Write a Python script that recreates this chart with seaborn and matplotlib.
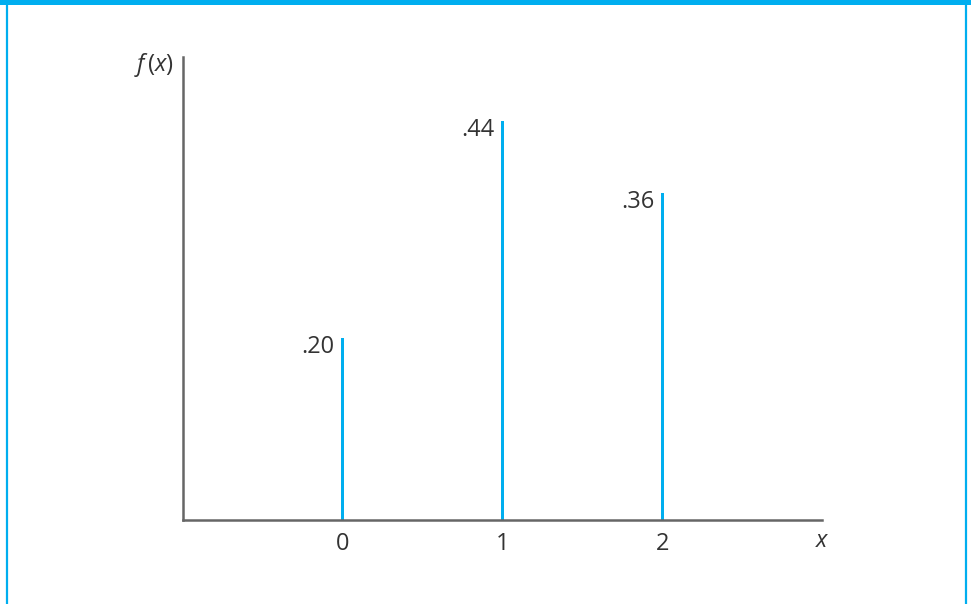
import matplotlib
matplotlib.use("Agg")
import matplotlib.pyplot as plt
from matplotlib.lines import Line2D
from matplotlib.patches import Rectangle
import pandas as pd
import seaborn as sns

# values of the distribution
x_values = [0, 1, 2]
probs = [0.20, 0.44, 0.36]
prob_labels = [".20", ".44", ".36"]

STEM = "#00AEEF"
AXIS = "#666666"
TEXT = "#333333"

sns.set_theme(style="white")
plt.rcParams["font.family"] = ["Open Sans", "DejaVu Sans"]
plt.rcParams["mathtext.fontset"] = "custom"
plt.rcParams["mathtext.rm"] = "Open Sans"
plt.rcParams["mathtext.it"] = "Open Sans:italic"

df = pd.DataFrame({"x": x_values, "f": probs})

fig = plt.figure(figsize=(9.71, 6.04), dpi=100)
ax = fig.add_axes([183 / 971, 84 / 604, 639 / 971, 463 / 604])

sns.barplot(data=df, x="x", y="f", native_scale=True, width=0.02,
            color=STEM, saturation=1, edgecolor="none", ax=ax)

for xv, p, lab in zip(x_values, probs, prob_labels):
    ax.annotate(lab, (xv, p), xytext=(-8, -9), textcoords="offset pixels",
                ha="right", va="center", fontsize=17, color=TEXT)

ax.set_xlim(-1, 3)
ax.set_ylim(0, 0.51)
ax.set_xticks(x_values)
ax.set_xticklabels([str(v) for v in x_values])
ax.set_yticks([])
ax.set_xlabel("")
ax.set_ylabel("")
ax.tick_params(axis="x", length=0, pad=9, labelsize=17, labelcolor=TEXT)

for side in ["top", "right"]:
    ax.spines[side].set_visible(False)
for side in ["left", "bottom"]:
    ax.spines[side].set_color(AXIS)
    ax.spines[side].set_linewidth(1.8)

fig.text(822 / 971, 1 - 541 / 604, "x", style="italic", fontsize=17,
         color=TEXT, ha="center", va="center")
fig.text(174 / 971, 1 - 65 / 604, r"$f\,(x)$", fontsize=17,
         color=TEXT, ha="right", va="center")

# frame around the figure
fig.add_artist(Rectangle((0, 1 - 5 / 604), 1, 5 / 604, transform=fig.transFigure,
                         facecolor=STEM, edgecolor="none"))
fig.add_artist(Line2D([6.5 / 971, 6.5 / 971], [0, 1], transform=fig.transFigure,
                      color=STEM, lw=1.6))
fig.add_artist(Line2D([965.5 / 971, 965.5 / 971], [0, 1], transform=fig.transFigure,
                      color=STEM, lw=1.6))

fig.savefig("out.png", dpi=100)
